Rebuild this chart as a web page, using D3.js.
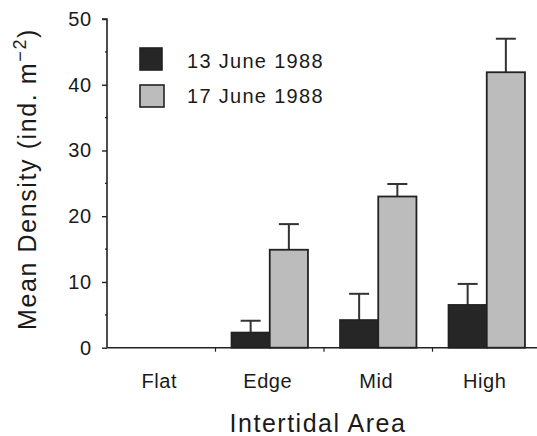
<!DOCTYPE html>
<html><head><meta charset="utf-8">
<script src="https://cdn.jsdelivr.net/npm/d3@7/dist/d3.min.js"></script>
<style>body{margin:0;background:#fff}svg{display:block}text{font-family:"Liberation Sans",Arial,sans-serif;fill:#1a1a1a}</style>
</head><body><svg id="c" width="537" height="436"></svg>
<script>
const categories = ["Flat","Edge","Mid","High"];
const seriesNames = ["13 June 1988","17 June 1988"];
const june13 = [0, 2.3, 4.2, 6.5];
const june13Err = [0, 1.8, 4.0, 3.2];
const june17 = [0, 14.9, 23.0, 41.9];
const june17Err = [0, 3.9, 1.9, 5.1];
const yTicks = [0,10,20,30,40,50];
const yMinor = [5,15,25,35,45];

const svg = d3.select("#c");
const x0 = d3.scaleBand().domain(categories).range([107, 541]).paddingInner(0).paddingOuter(0);
const x1 = d3.scaleBand().domain(seriesNames).range([0, x0.bandwidth()]).paddingInner(0).paddingOuter(0.42);
const y = d3.scaleLinear().domain([0,50]).range([347.7, 19]);

const fills = ["#262626", "#bcbcbc"];
const data = categories.map((c,i)=>({cat:c, vals:[
  {s:seriesNames[0], v:june13[i], e:june13Err[i]},
  {s:seriesNames[1], v:june17[i], e:june17Err[i]}]}));

const g = svg.append("g");
const grp = g.selectAll("g.grp").data(data).join("g").attr("transform", d=>`translate(${x0(d.cat)},0)`);
grp.selectAll("g.err").data(d=>d.vals.filter(v=>v.e>0)).join("g").each(function(d){
  const cx = x1(d.s) + x1.bandwidth()/2;
  const gg = d3.select(this);
  gg.append("line").attr("x1",cx).attr("x2",cx).attr("y1",y(d.v)).attr("y2",y(d.v+d.e)).attr("stroke","#333").attr("stroke-width",2);
  gg.append("line").attr("x1",cx-10).attr("x2",cx+10).attr("y1",y(d.v+d.e)).attr("y2",y(d.v+d.e)).attr("stroke","#333").attr("stroke-width",2);
});
grp.selectAll("rect").data(d=>d.vals.filter(v=>v.v>0)).join("rect")
  .attr("x", d=>x1(d.s)).attr("width", x1.bandwidth())
  .attr("y", d=>y(d.v)).attr("height", d=>y(0)-y(d.v))
  .attr("fill", (d,i)=>fills[i]).attr("stroke","#222").attr("stroke-width",1.8);

// y axis
const ya = svg.append("g").attr("transform","translate(107,0)")
  .call(d3.axisLeft(y).tickValues(yTicks).tickSize(5).tickPadding(8).tickFormat(d3.format("d")));
ya.select(".domain").attr("d", `M-5,${y(50)}H0V${y(0)}`).attr("stroke","#222").attr("stroke-width",1.6);
ya.selectAll(".tick line").attr("stroke","#222").attr("stroke-width",1.4);
ya.selectAll(".tick text").attr("font-size",20).attr("fill","#1a1a1a").attr("font-family","Liberation Sans, Arial, sans-serif").attr("dx",-2).attr("letter-spacing",0.8);
svg.append("g").selectAll("line").data(yMinor).join("line")
  .attr("x1",105).attr("x2",107).attr("y1",d=>y(d)).attr("y2",d=>y(d)).attr("stroke","#222").attr("stroke-width",1.2);

// x axis
const xa = svg.append("g").attr("transform",`translate(0,${y(0)})`)
  .call(d3.axisBottom(x0).tickSize(0).tickPadding(26));
xa.select(".domain").attr("d","M107,0H537").attr("stroke","#222").attr("stroke-width",1.6);
xa.selectAll(".tick text").attr("font-size",20).attr("fill","#1a1a1a").attr("font-family","Liberation Sans, Arial, sans-serif").attr("dx",-2).attr("letter-spacing",0.6);
svg.append("g").selectAll("line").data(categories.slice(1)).join("line")
  .attr("x1",d=>x0(d)).attr("x2",d=>x0(d)).attr("y1",y(0)).attr("y2",y(0)+4).attr("stroke","#222").attr("stroke-width",1.2);

// axis titles
svg.append("text").attr("x",318).attr("y",432).attr("text-anchor","middle").attr("font-size",25).attr("letter-spacing",1.5).text("Intertidal Area");
const yt = svg.append("text").attr("transform","translate(36,179) rotate(-90)").attr("text-anchor","middle").attr("font-size",25).attr("letter-spacing",1.6);
yt.append("tspan").text("Mean Density (ind. m");
yt.append("tspan").attr("dy",-10).attr("font-size",18).text("\u22122");
yt.append("tspan").attr("dy",10).text(")");

// legend
const leg = svg.append("g");
leg.selectAll("rect").data(seriesNames).join("rect")
  .attr("x",140).attr("y",(d,i)=>48+i*37).attr("width",(d,i)=>22+i*2).attr("height",22)
  .attr("fill",(d,i)=>fills[i]).attr("stroke","#222").attr("stroke-width",1.6);
leg.selectAll("text").data(seriesNames).join("text")
  .attr("x",187).attr("y",(d,i)=>68+i*35).attr("font-size",20).attr("letter-spacing",1.3).text(d=>d);
</script></body></html>
